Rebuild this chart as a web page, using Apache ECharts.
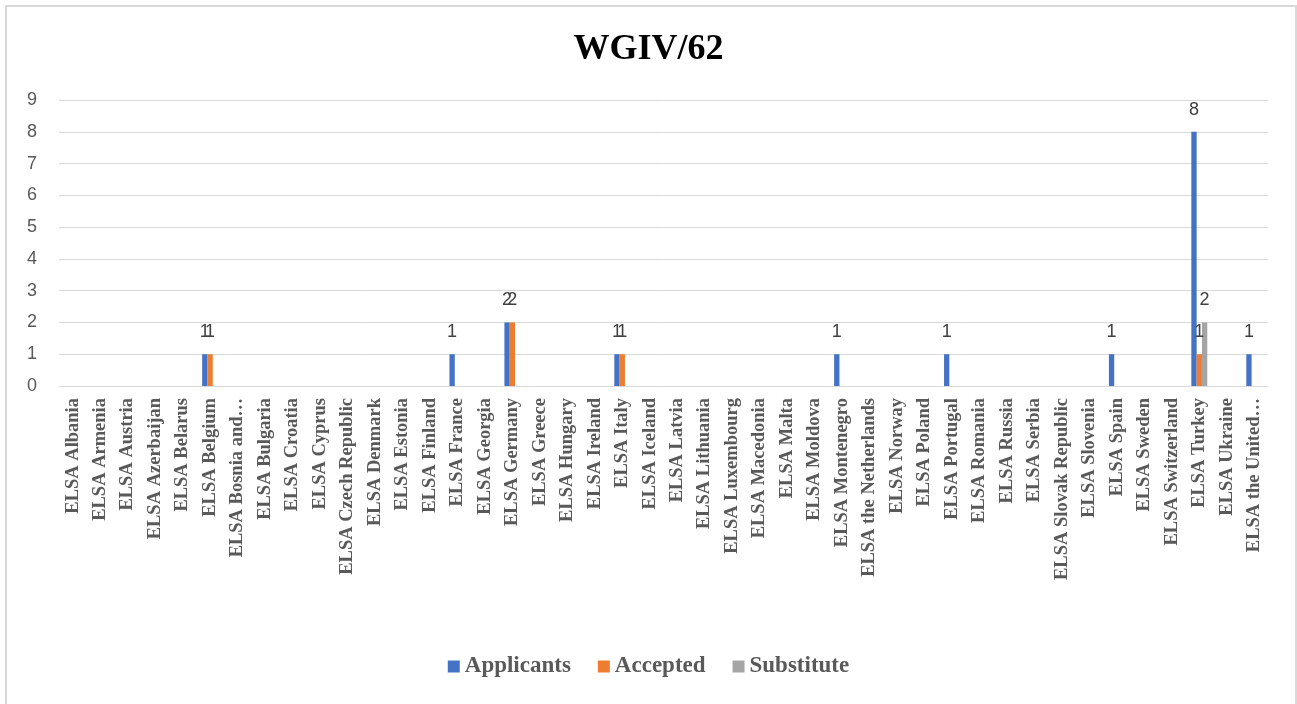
<!DOCTYPE html>
<html>
<head>
<meta charset="utf-8">
<script src="https://cdn.jsdelivr.net/npm/echarts@6/dist/echarts.min.js"></script>
<style>
html,body{margin:0;padding:0;background:#fff;}
#chart{width:1297px;height:704px;}
</style>
</head>
<body>
<div id="chart"></div>
<script>
var categories = ['ELSA Albania','ELSA Armenia','ELSA Austria','ELSA Azerbaijan','ELSA Belarus','ELSA Belgium','ELSA Bosnia and…','ELSA Bulgaria','ELSA Croatia','ELSA Cyprus','ELSA Czech Republic','ELSA Denmark','ELSA Estonia','ELSA Finland','ELSA France','ELSA Georgia','ELSA Germany','ELSA Greece','ELSA Hungary','ELSA Ireland','ELSA Italy','ELSA Iceland','ELSA Latvia','ELSA Lithuania','ELSA Luxembourg','ELSA Macedonia','ELSA Malta','ELSA Moldova','ELSA Montenegro','ELSA the Netherlands','ELSA Norway','ELSA Poland','ELSA Portugal','ELSA Romania','ELSA Russia','ELSA Serbia','ELSA Slovak Republic','ELSA Slovenia','ELSA Spain','ELSA Sweden','ELSA Switzerland','ELSA Turkey','ELSA Ukraine','ELSA the United…'];
var applicants = [0,0,0,0,0,1,0,0,0,0,0,0,0,0,1,0,2,0,0,0,1,0,0,0,0,0,0,0,1,0,0,0,1,0,0,0,0,0,1,0,0,8,0,1];
var accepted   = [0,0,0,0,0,1,0,0,0,0,0,0,0,0,0,0,2,0,0,0,1,0,0,0,0,0,0,0,0,0,0,0,0,0,0,0,0,0,0,0,0,1,0,0];
var substitute = [0,0,0,0,0,0,0,0,0,0,0,0,0,0,0,0,0,0,0,0,0,0,0,0,0,0,0,0,0,0,0,0,0,0,0,0,0,0,0,0,0,2,0,0];
var seriesNames = ['Applicants','Accepted','Substitute'];
var yTicks = [0,1,2,3,4,5,6,7,8,9];

var chart = echarts.init(document.getElementById('chart'), null, {renderer:'canvas'});
var labelCfg = {
  show: true, position: 'top', distance: 13,
  fontFamily: 'Liberation Sans', fontSize: 18, color: '#404040',
  formatter: function(p){ return p.value === 0 ? '' : String(p.value); }
};
function mk(name, data, color){
  return {
    name: name, type: 'bar', data: data,
    barGap: '0%', barCategoryGap: '42%',
    itemStyle: {color: color},
    label: labelCfg,
    emphasis: {disabled: true}
  };
}
chart.setOption({
  animation: false,
  backgroundColor: '#fff',
  title: {
    text: 'WGIV/62', left: 'center', top: 27,
    textStyle: {fontFamily: 'Liberation Serif', fontWeight: 'bold', fontSize: 36, color: '#000'}
  },
  graphic: [{
    type: 'rect', shape: {x: 6, y: 6, width: 1290, height: 710},
    style: {fill: 'none', stroke: '#d9d9d9', lineWidth: 2}, silent: true
  }],
  legend: {
    data: seriesNames, bottom: 21, left: 'center',
    itemWidth: 12, itemHeight: 12, itemGap: 27, icon: 'rect',
    textStyle: {fontFamily: 'Liberation Serif', fontWeight: 'bold', fontSize: 23, color: '#595959', padding: [0,0,0,0]}
  },
  grid: {left: 59, right: 29, top: 100, bottom: 318, containLabel: false},
  xAxis: {
    type: 'category', data: categories,
    axisLine: {show: true, lineStyle: {color: '#d9d9d9', width: 1}},
    axisTick: {show: false},
    axisLabel: {interval: 0, rotate: 90, margin: 12, fontFamily: 'Liberation Serif', fontWeight: 'bold', fontSize: 18.5, color: '#595959'}
  },
  yAxis: {
    type: 'value', min: yTicks[0], max: yTicks[yTicks.length-1], interval: 1,
    axisLine: {show: false}, axisTick: {show: false},
    splitLine: {lineStyle: {color: '#d9d9d9', width: 1}},
    axisLabel: {margin: 22, fontFamily: 'Liberation Sans', fontSize: 18, color: '#595959'}
  },
  series: [
    mk(seriesNames[0], applicants, '#4472C4'),
    mk(seriesNames[1], accepted, '#ED7D31'),
    mk(seriesNames[2], substitute, '#A5A5A5')
  ]
});
</script>
</body>
</html>
